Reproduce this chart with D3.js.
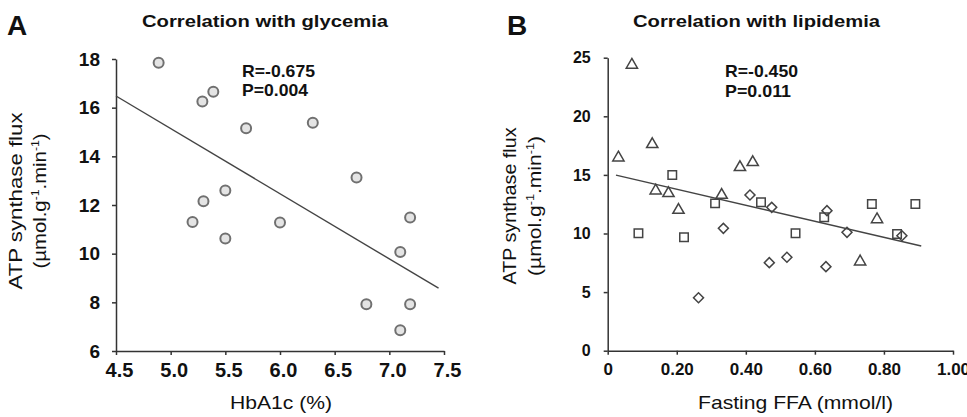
<!DOCTYPE html>
<html>
<head>
<meta charset="utf-8">
<script src="https://cdn.jsdelivr.net/npm/d3@7"></script>
<style>
  body { margin: 0; background: #fff; }
  svg { display: block; font-family: Arial, "Liberation Sans", sans-serif; }
  .tick text { font-weight: bold; fill: #111; }
  .domain, .tick line { stroke: #333; stroke-width: 1.5; }
</style>
</head>
<body>
<svg id="chart" width="967" height="417"></svg>
<script>
// panel A - glycemia
var hba1c = [4.89, 5.29, 5.39, 5.69, 6.30, 6.70, 5.30, 5.50, 5.20, 5.50, 6.00, 7.19, 7.10, 6.79, 7.19, 7.10];
var fluxA = [17.85, 16.25, 16.65, 15.15, 15.38, 13.13, 12.15, 12.60, 11.30, 10.62, 11.28, 11.49, 10.07, 7.92, 7.92, 6.85];
var fitA_x = [4.5, 7.45];
var fitA_y = [16.48, 8.58];
var ticksA_x = [4.5, 5.0, 5.5, 6.0, 6.5, 7.0, 7.5];
var ticksA_y = [6, 8, 10, 12, 14, 16, 18];

// panel B - lipidemia, three marker groups
var triFFA = [0.070, 0.031, 0.129, 0.139, 0.176, 0.383, 0.420, 0.330, 0.205, 0.780, 0.731];
var triFlux = [24.38, 16.47, 17.61, 13.65, 13.43, 15.65, 16.07, 13.28, 12.00, 11.20, 7.60];
var sqFFA = [0.187, 0.311, 0.444, 0.089, 0.221, 0.544, 0.627, 0.765, 0.891, 0.838];
var sqFlux = [14.99, 12.57, 12.66, 10.02, 9.67, 10.02, 11.38, 12.52, 12.52, 9.95];
var diaFFA = [0.412, 0.475, 0.335, 0.263, 0.468, 0.519, 0.632, 0.635, 0.693, 0.852];
var diaFlux = [13.28, 12.23, 10.44, 4.52, 7.51, 7.97, 7.17, 11.95, 10.10, 9.81];
var fitB_x = [0.024, 0.908];
var fitB_y = [14.98, 8.93];
var ticksB_x = [0, 0.2, 0.4, 0.6, 0.8, 1.0];
var ticksB_y = [0, 5, 10, 15, 20, 25];

var svg = d3.select("#chart");

function txt(x, y, s, size, weight, len) {
  var t = svg.append("text")
    .attr("x", x).attr("y", y)
    .attr("font-size", size)
    .attr("font-weight", weight)
    .attr("fill", "#111")
    .text(s);
  if (len) t.attr("textLength", len).attr("lengthAdjust", "spacingAndGlyphs");
  return t;
}

function yLabel(cx, cy, base1, base2, len1, len2, size) {
  var g = svg.append("g").attr("transform", "translate(" + cx + "," + cy + ") rotate(-90)");
  g.append("text").attr("text-anchor", "middle").attr("y", base1)
    .attr("font-size", size).attr("fill", "#111")
    .attr("textLength", len1).attr("lengthAdjust", "spacingAndGlyphs")
    .text("ATP synthase flux");
  var t = g.append("text").attr("text-anchor", "middle").attr("y", base2)
    .attr("font-size", size).attr("fill", "#111")
    .attr("textLength", len2).attr("lengthAdjust", "spacingAndGlyphs");
  t.append("tspan").text("(\u00b5mol.g");
  t.append("tspan").attr("font-size", size * 0.6).attr("dy", -7).text("-1");
  t.append("tspan").attr("dy", 7).text(".min");
  t.append("tspan").attr("font-size", size * 0.6).attr("dy", -7).text("-1");
  t.append("tspan").attr("dy", 7).text(")");
}

// ---------- panel A ----------
var xA = d3.scaleLinear().domain([4.5, 7.5]).range([116, 444]);
var yA = d3.scaleLinear().domain([6, 18]).range([351, 59]);

svg.append("g").attr("transform", "translate(0,351)")
  .call(d3.axisBottom(xA).tickValues(ticksA_x).tickFormat(d3.format(".1f")).tickSize(4).tickSizeOuter(0).tickPadding(8))
  .call(function(g) { g.selectAll("text").attr("font-size", 20).attr("dx", 3); });
svg.append("g").attr("transform", "translate(116,0)")
  .call(d3.axisLeft(yA).tickValues(ticksA_y).tickSize(4).tickSizeOuter(0).tickPadding(12))
  .call(function(g) { g.selectAll("text").attr("font-size", 19); });
svg.selectAll(".tick text").attr("font-family", "Arial, 'Liberation Sans', sans-serif");

svg.append("line")
  .attr("x1", xA(fitA_x[0])).attr("y1", yA(fitA_y[0]))
  .attr("x2", xA(fitA_x[1])).attr("y2", yA(fitA_y[1]))
  .attr("stroke", "#444").attr("stroke-width", 1.4);

svg.append("g").selectAll("circle")
  .data(d3.range(hba1c.length))
  .join("circle")
  .attr("cx", function(i) { return xA(hba1c[i]); })
  .attr("cy", function(i) { return yA(fluxA[i]); })
  .attr("r", 5)
  .attr("fill", "#e4e4e4")
  .attr("stroke", "#707070")
  .attr("stroke-width", 2);

txt(7, 35, "A", 28, "bold");
txt(265, 27, "Correlation with glycemia", 17, "bold", 246).attr("x", 142);
txt(242, 77, "R=-0.675", 17, "bold", 73);
txt(242, 96, "P=0.004", 17, "bold", 66);
txt(230, 409, "HbA1c (%)", 19, "normal", 102);
yLabel(0, 201, 22, 46, 177, 135, 19);

// ---------- panel B ----------
var xB = d3.scaleLinear().domain([0, 1]).range([607.7, 953]);
var yB = d3.scaleLinear().domain([0, 25]).range([350.7, 57.7]);

svg.append("g").attr("transform", "translate(0,350.7)")
  .call(d3.axisBottom(xB).tickValues(ticksB_x).tickFormat(function(d) { return d === 0 ? "0" : d3.format(".2f")(d); }).tickSize(4).tickSizeOuter(0).tickPadding(8))
  .call(function(g) { g.selectAll("text").attr("font-size", 17); });
svg.append("g").attr("transform", "translate(607.7,0)")
  .call(d3.axisLeft(yB).tickValues(ticksB_y).tickSize(4).tickSizeOuter(0).tickPadding(13))
  .call(function(g) { g.selectAll("text").attr("font-size", 16); });
svg.selectAll(".tick text").attr("font-family", "Arial, 'Liberation Sans', sans-serif");

svg.append("line")
  .attr("x1", xB(fitB_x[0])).attr("y1", yB(fitB_y[0]))
  .attr("x2", xB(fitB_x[1])).attr("y2", yB(fitB_y[1]))
  .attr("stroke", "#444").attr("stroke-width", 1.4);

function markers(xs, ys, type, size, rot) {
  var sym = d3.symbol().type(type).size(size);
  svg.append("g").selectAll("path")
    .data(d3.range(xs.length))
    .join("path")
    .attr("d", sym)
    .attr("transform", function(i) { return "translate(" + xB(xs[i]) + "," + yB(ys[i]) + ") rotate(" + rot + ")"; })
    .attr("fill", "none")
    .attr("stroke", "#444")
    .attr("stroke-width", 1.5);
}
markers(sqFFA, sqFlux, d3.symbolSquare, 72, 0);
markers(diaFFA, diaFlux, d3.symbolSquare, 50, 45);
markers(triFFA, triFlux, d3.symbolTriangle, 55, 0);

txt(507, 35, "B", 28, "bold");
txt(633, 27, "Correlation with lipidemia", 17, "bold", 247);
txt(725, 77, "R=-0.450", 17, "bold", 73);
txt(725, 97, "P=0.011", 17, "bold", 66);
txt(698, 409, "Fasting FFA (mmol/l)", 19, "normal", 195);
yLabel(0, 206, 516, 541, 157, 140, 19);
</script>
</body>
</html>
